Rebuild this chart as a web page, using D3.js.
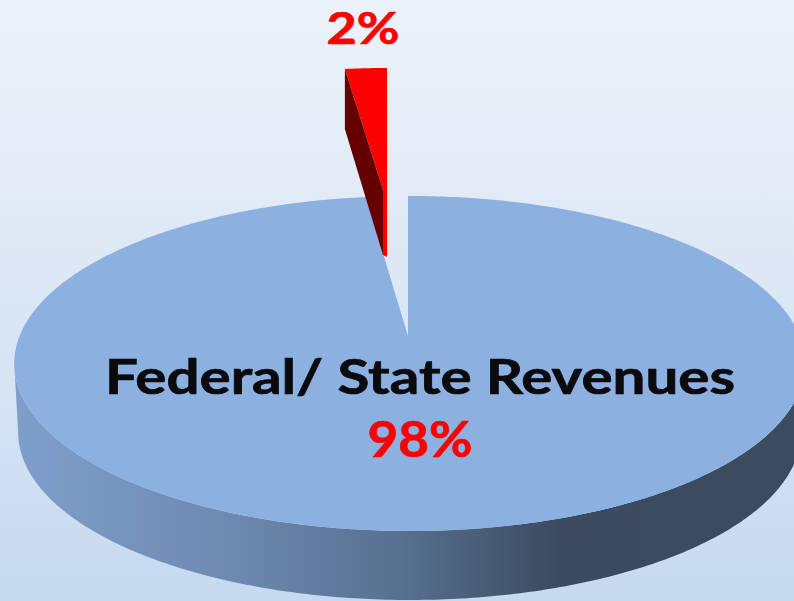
<!DOCTYPE html>
<html><head><meta charset="utf-8">
<script src="https://cdn.jsdelivr.net/npm/d3@7"></script>
<style>html,body{margin:0;padding:0;background:#dce8f6}svg{display:block}text{font-family:Lato,"Open Sans",sans-serif;font-weight:700}</style>
</head><body><svg id="c" width="794" height="601"></svg>
<script>
const categories = ["Federal/ State Revenues", "Other"];
const values = [98, 2];
const labels = ["98%", "2%"];

const svg = d3.select("#c");
const defs = svg.append("defs");
const bg = defs.append("linearGradient").attr("id","bg").attr("x1",0).attr("y1",0).attr("x2",0).attr("y2",1);
[["0%","#ebf2fa"],["50%","#dce7f5"],["100%","#c6d9ef"]].forEach(s=>bg.append("stop").attr("offset",s[0]).attr("stop-color",s[1]));
const wg = defs.append("linearGradient").attr("id","wall").attr("gradientUnits","userSpaceOnUse").attr("x1",14).attr("y1",0).attr("x2",794).attr("y2",0);
[["0%","#7f9fcb"],["25%","#6f8cb3"],["50%","#56708f"],["70%","#3b4a5f"],["100%","#3c4c60"]].forEach(s=>wg.append("stop").attr("offset",s[0]).attr("stop-color",s[1]));
svg.append("rect").attr("width",794).attr("height",601).attr("fill","url(#bg)");

const pie = d3.pie().sort(null).value(d=>d);
const arcs = pie(values);
const big = arcs[0], small = arcs[1];

// perspective projection of the unit disc
function project(o){
  return (theta, r=1)=>{
    const u=r*Math.sin(theta), v=r*Math.cos(theta), w=1+o.k*v+o.j*u;
    return [o.x+o.a*u/w, o.y-o.b*v/w];
  };
}
const main = project({x:408,y:336,a:390,b:163,k:0.164,j:-0.004});
const sampled = (a,b,n=240)=>d3.range(n+1).map(i=>a+(b-a)*i/n);
const line = d3.line().curve(d3.curveLinear);
const depth = 69;
const lower = t=>{const p=main(t);return [408+(p[0]-408)*0.99,p[1]+depth];};

// side wall: from the rightmost rim point round the front to the leftmost
const rim = sampled(0,2*Math.PI,720);
const tR = rim[d3.maxIndex(rim,t=>main(t)[0])], tL = rim[d3.minIndex(rim,t=>main(t)[0])];
const wallAngles = sampled(tR,tL);
svg.append("path").attr("fill","url(#wall)")
  .attr("d",line(wallAngles.map(t=>main(t)).concat(wallAngles.slice().reverse().map(lower)))+"Z");
// top face
const ang = sampled(big.startAngle,big.endAngle,480);
svg.append("path").attr("fill","#8cb0df")
  .attr("d",line([main(0,0)].concat(ang.map(t=>main(t))))+"Z");

// exploded slice
const slice = project({x:387,y:190,a:336,b:122,k:0,j:0});
const rimA = slice(small.startAngle), tip = slice(0,0);
const wallDepth=[60,67];
const sliceFace = sampled(small.startAngle,small.endAngle,12).map(t=>slice(t));
svg.append("path").attr("fill","#ff0000")
  .attr("d",line(sliceFace.concat([[tip[0],tip[1]+wallDepth[1]],[tip[0]-4,tip[1]+wallDepth[1]-2],[tip[0]-4,tip[1]]]))+"Z");
svg.append("path").attr("fill","#650000")
  .attr("d",line([rimA,[tip[0]-4,tip[1]],[tip[0]-4,tip[1]+wallDepth[1]-2],[rimA[0],rimA[1]+wallDepth[0]]])+"Z");

// labels
const txt = (s,x,y,size,len,fill)=>svg.append("text").attr("x",x).attr("y",y).attr("text-anchor","middle")
  .attr("font-size",size).attr("textLength",len).attr("lengthAdjust","spacingAndGlyphs")
  .attr("fill",fill).attr("stroke",fill).attr("stroke-width",0.7).text(s);
txt(categories[0],420,394,47,630,"#0b0b0f");
txt(labels[0],420,457,49,105,"#ff0000");
txt(labels[1],363,44,44,73,"#ff0000");
</script></body></html>
